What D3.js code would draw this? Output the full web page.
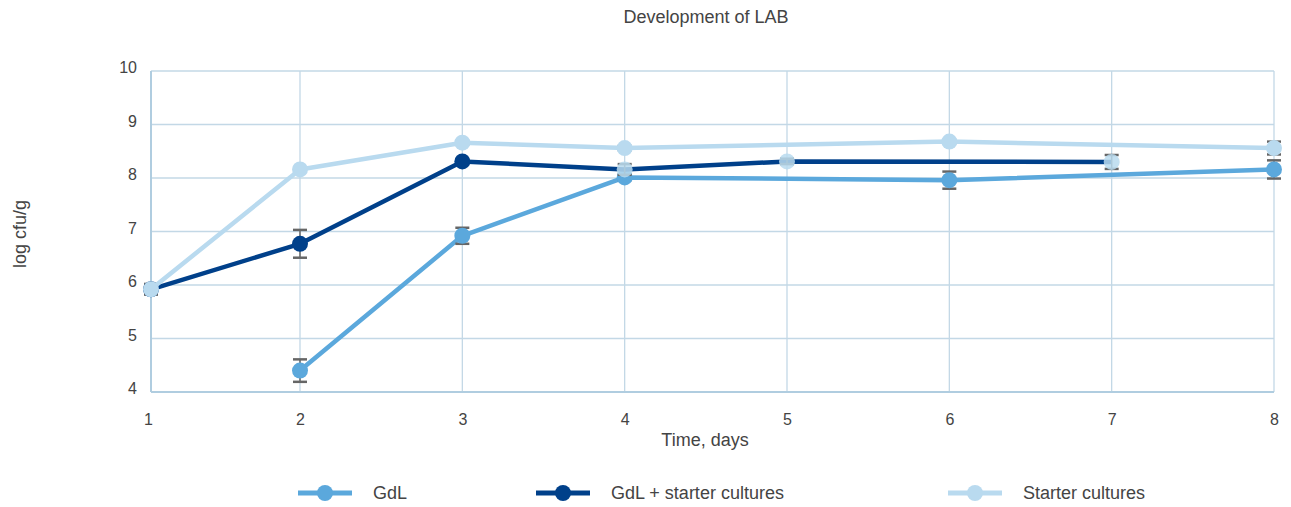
<!DOCTYPE html>
<html>
<head>
<meta charset="utf-8">
<script src="https://cdn.jsdelivr.net/npm/d3@7"></script>
<style>
  body { margin: 0; background: #fff; }
  svg text { font-family: "Liberation Sans", Arial, sans-serif; fill: #444; }
</style>
</head>
<body>
<div id="chart"></div>
<script>
// data
const days = [1, 2, 3, 4, 5, 6, 7, 8];
const yTicks = [4, 5, 6, 7, 8, 9, 10];

const gdl       = [null, 4.40, 6.92, 8.01, null, 7.96, null, 8.16];
const gdlErr    = [null, 0.21, 0.15, 0.05, null, 0.16, null, 0.17];
const gdlSc     = [5.92, 6.77, 8.31, 8.16, 8.31, null, 8.30, null];
const gdlScErr  = [0.10, 0.26, 0.03, 0.10, 0.05, null, 0.13, null];
const starter   = [5.92, 8.16, 8.66, 8.56, null, 8.68, null, 8.56];
const starterErr= [0.05, 0.03, 0.03, 0.04, null, 0.03, null, 0.12];
// days where the GdL + starter markers are drawn pale in the original
const paleDays = [4, 5, 7];

const seriesNames = ['GdL', 'GdL + starter cultures', 'Starter cultures'];
const colors = ['#5ba8dc', '#00408a', '#b9daef'];

const W = 1291, H = 507;

const svg = d3.select('#chart').append('svg')
  .attr('width', W).attr('height', H);

// first day interval is narrower in the original, so a piecewise domain
const x = d3.scaleLinear().domain([1, 2, 8]).range([151, 300, 1274]);
const y = d3.scaleLinear().domain([4, 10]).range([392, 71]);

const gridColor = '#c3d8e6';

// grid
svg.append('g').selectAll('line')
  .data(yTicks).join('line')
  .attr('x1', x(1)).attr('x2', x(8))
  .attr('y1', d => y(d)).attr('y2', d => y(d))
  .attr('stroke', gridColor).attr('stroke-width', 1.3);
svg.append('g').selectAll('line')
  .data(days).join('line')
  .attr('x1', d => x(d)).attr('x2', d => x(d))
  .attr('y1', y(10)).attr('y2', y(4))
  .attr('stroke', gridColor).attr('stroke-width', 1.3);
svg.append('line')
  .attr('x1', x(1)).attr('x2', x(1)).attr('y1', y(10)).attr('y2', y(4))
  .attr('stroke', '#b0cde0').attr('stroke-width', 2);
svg.append('line')
  .attr('x1', x(1)).attr('x2', x(8)).attr('y1', y(4)).attr('y2', y(4))
  .attr('stroke', '#b0cde0').attr('stroke-width', 2);

// axes
const yAxis = d3.axisLeft(y).tickValues(yTicks).tickSize(0).tickPadding(14).tickFormat(d3.format('d'));
svg.append('g').attr('transform', `translate(${x(1)},0)`).call(yAxis)
  .call(g => g.select('.domain').remove())
  .selectAll('text').style('font-size', '16px').attr('dy', '0.1em');

const xAxis = d3.axisBottom(x).tickValues(days).tickSize(0).tickPadding(22).tickFormat(d3.format('d'));
svg.append('g').attr('transform', `translate(0,${y(4)})`).call(xAxis)
  .call(g => g.select('.domain').remove())
  .selectAll('text').style('font-size', '16px')
  .attr('dx', d => d === 1 ? -3 : 0);

// titles
svg.append('text').attr('x', 706).attr('y', 23).attr('text-anchor', 'middle')
  .style('font-size', '18px').text('Development of LAB');
svg.append('text').attr('x', 705).attr('y', 446).attr('text-anchor', 'middle')
  .style('font-size', '18px').text('Time, days');
svg.append('text').attr('transform', 'translate(26,234) rotate(-90)')
  .attr('text-anchor', 'middle').style('font-size', '18px').text('log cfu/g');

// series
const series = [
  { vals: gdl, err: gdlErr },
  { vals: gdlSc, err: gdlScErr },
  { vals: starter, err: starterErr }
].map((s, i) => ({
  name: seriesNames[i],
  color: colors[i],
  points: days.map((d, j) => ({ day: d, v: s.vals[j], e: s.err[j] })).filter(p => p.v != null)
}));

const line = d3.line().x(p => x(p.day)).y(p => y(p.v));

series.forEach((s, i) => {
  const g = svg.append('g');
  g.append('path').datum(s.points)
    .attr('d', line).attr('fill', 'none')
    .attr('stroke', s.color).attr('stroke-width', 4.5)
    .attr('stroke-linejoin', 'round');

  const eb = g.selectAll('g.err').data(s.points).join('g');
  eb.append('line')
    .attr('x1', p => x(p.day)).attr('x2', p => x(p.day))
    .attr('y1', p => y(p.v - p.e)).attr('y2', p => y(p.v + p.e))
    .attr('stroke', '#666').attr('stroke-width', 1.5);
  [-1, 1].forEach(sg => {
    eb.append('line')
      .attr('x1', p => x(p.day) - 7).attr('x2', p => x(p.day) + 7)
      .attr('y1', p => y(p.v + sg * p.e)).attr('y2', p => y(p.v + sg * p.e))
      .attr('stroke', '#666').attr('stroke-width', 2.5);
  });

  g.selectAll('circle').data(s.points).join('circle')
    .attr('cx', p => x(p.day)).attr('cy', p => y(p.v)).attr('r', 8)
    .attr('fill', p => (i === 1 && paleDays.includes(p.day)) ? colors[2] : s.color)
    .attr('fill-opacity', p => (i === 1 && paleDays.includes(p.day)) ? 0.85 : 1);
});

// legend
const legendX = [325, 563, 975];
const lg = svg.append('g').selectAll('g').data(series).join('g')
  .attr('transform', (d, i) => `translate(${legendX[i]},493)`);
lg.append('line').attr('x1', -27).attr('x2', 27)
  .attr('stroke', d => d.color).attr('stroke-width', 5);
lg.append('circle').attr('r', 8).attr('fill', d => d.color);
lg.append('text').attr('x', 48).attr('dy', '0.35em')
  .style('font-size', '18px').text(d => d.name);
</script>
</body>
</html>
